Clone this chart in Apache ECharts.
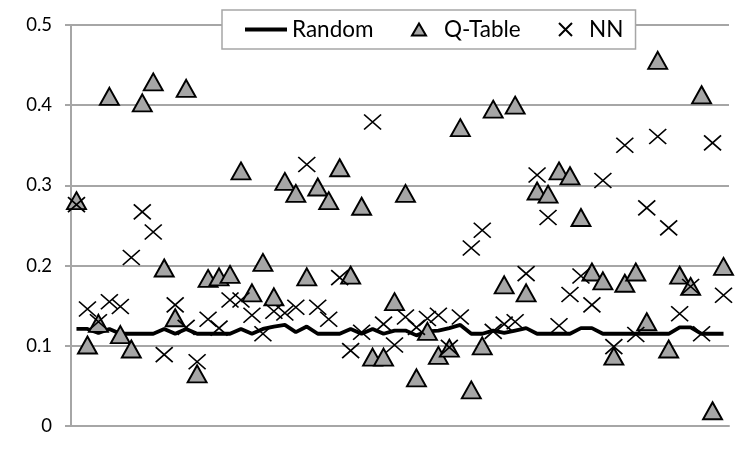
<!DOCTYPE html>
<html>
<head>
<meta charset="utf-8">
<script src="https://cdn.jsdelivr.net/npm/echarts@6/dist/echarts.min.js"></script>
<style>
html,body{margin:0;padding:0;background:#fff;}
#c{width:755px;height:455px;}
</style>
</head>
<body>
<div id="c"></div>
<script>
const categories = Array.from({length: 60}, (_, i) => String(i + 1));

const randomVals = [
  0.121, 0.121, 0.116, 0.121, 0.115, 0.115, 0.115, 0.115, 0.121, 0.115,
  0.121, 0.115, 0.115, 0.115, 0.115, 0.121, 0.115, 0.121, 0.124, 0.126,
  0.117, 0.124, 0.115, 0.115, 0.115, 0.121, 0.115, 0.121, 0.115, 0.119,
  0.119, 0.113, 0.118, 0.119, 0.122, 0.126, 0.115, 0.115, 0.119, 0.116,
  0.119, 0.122, 0.115, 0.115, 0.115, 0.115, 0.122, 0.122, 0.115, 0.115,
  0.115, 0.115, 0.115, 0.115, 0.115, 0.123, 0.123, 0.115, 0.115, 0.115
];

const qTableVals = [
  0.281, 0.101, 0.128, 0.411, 0.114, 0.096, 0.403, 0.429, 0.197, 0.135,
  0.421, 0.065, 0.184, 0.186, 0.189, 0.318, 0.166, 0.204, 0.161, 0.305,
  0.290, 0.186, 0.298, 0.281, 0.322, 0.188, 0.274, 0.086, 0.086, 0.155,
  0.290, 0.060, 0.118, 0.088, 0.097, 0.372, 0.045, 0.100, 0.395, 0.176,
  0.400, 0.166, 0.293, 0.289, 0.318, 0.312, 0.260, 0.192, 0.181, 0.087,
  0.178, 0.192, 0.130, 0.456, 0.096, 0.188, 0.174, 0.413, 0.019, 0.199
];

const nnVals = [
  0.276, 0.146, 0.130, 0.155, 0.149, 0.210, 0.267, 0.242, 0.089, 0.151,
  0.123, 0.080, 0.133, 0.122, 0.157, 0.157, 0.138, 0.115, 0.143, 0.141,
  0.148, 0.326, 0.148, 0.133, 0.185, 0.094, 0.117, 0.379, 0.127, 0.101,
  0.136, 0.123, 0.134, 0.138, 0.098, 0.136, 0.222, 0.244, 0.118, 0.127,
  0.130, 0.190, 0.313, 0.260, 0.125, 0.164, 0.187, 0.151, 0.306, 0.099,
  0.350, 0.114, 0.272, 0.361, 0.247, 0.140, 0.174, 0.115, 0.353, 0.163
];

const yTicks = { min: 0, max: 0.5, interval: 0.1 };
const seriesNames = ['Random', 'Q-Table', 'NN'];

const FONT = 'Lato';
const X_PATH = 'path://M0,0L16,16M16,0L0,16';
const LEG_LINE = 'path://M0,0H42V3.8H0Z';
const LEG_TRI = 'path://M7,0L14,12L0,12Z';
const LEG_X = 'path://M0,0L13,13M13,0L0,13';

const legendText = { fontFamily: FONT, fontSize: 22.5, color: '#000' };

const chart = echarts.init(document.getElementById('c'), null, {renderer: 'canvas'});
chart.setOption({
  animation: false,
  backgroundColor: '#ffffff',
  textStyle: { fontFamily: FONT },
  grid: { left: 71, right: 26, top: 25, bottom: 29, containLabel: false },
  legend: [
    {
      left: 222, top: 10,
      width: 415,
      padding: [8, 262, 8, 23],
      itemWidth: 42, itemHeight: 4,
      borderColor: '#a6a6a6', borderWidth: 1.5,
      backgroundColor: '#fff',
      textStyle: legendText,
      data: [{ name: seriesNames[0], icon: LEG_LINE }],
      z: 4
    },
    {
      left: 411, top: 10,
      padding: [8, 0, 8, 0],
      itemWidth: 14, itemHeight: 12,
      textStyle: Object.assign({ padding: [0, 0, 0, 13] }, legendText),
      data: [{ name: seriesNames[1], icon: LEG_TRI }],
      z: 5
    },
    {
      left: 558, top: 10,
      padding: [8, 0, 8, 0],
      itemWidth: 13, itemHeight: 13,
      textStyle: Object.assign({ padding: [0, 0, 0, 12] }, legendText),
      data: [{ name: seriesNames[2], icon: LEG_X }],
      z: 5
    }
  ],
  xAxis: {
    type: 'category',
    data: categories,
    boundaryGap: true,
    axisLine: { show: true, lineStyle: { color: '#a6a6a6', width: 2 } },
    axisTick: { show: false },
    axisLabel: { show: false },
    splitLine: { show: false }
  },
  yAxis: {
    type: 'value',
    min: yTicks.min, max: yTicks.max, interval: yTicks.interval,
    axisLine: { show: true, lineStyle: { color: '#a6a6a6', width: 2 } },
    axisTick: { show: true, length: 6, lineStyle: { color: '#a6a6a6', width: 2 } },
    axisLabel: { fontFamily: FONT, fontSize: 18.5, color: '#000', margin: 19,
      formatter: v => String(Math.round(v * 10) / 10) },
    splitLine: { show: true, lineStyle: { color: '#a6a6a6', width: 2 } }
  },
  series: [
    {
      name: seriesNames[0], type: 'line', data: randomVals,
      symbol: 'none', showSymbol: false,
      lineStyle: { color: '#000', width: 3.8 },
      itemStyle: { color: '#000' },
      z: 2
    },
    {
      name: seriesNames[1], type: 'scatter', data: qTableVals,
      symbol: 'triangle', symbolSize: [19, 17],
      itemStyle: { color: '#a6a6a6', borderColor: '#000', borderWidth: 1.9, opacity: 1 },
      z: 3
    },
    {
      name: seriesNames[2], type: 'scatter', data: nnVals,
      symbol: X_PATH, symbolSize: [17, 15],
      itemStyle: { color: 'rgba(0,0,0,0)', borderColor: '#000', borderWidth: 1.6, opacity: 1 },
      z: 4
    }
  ]
});
</script>
</body>
</html>
